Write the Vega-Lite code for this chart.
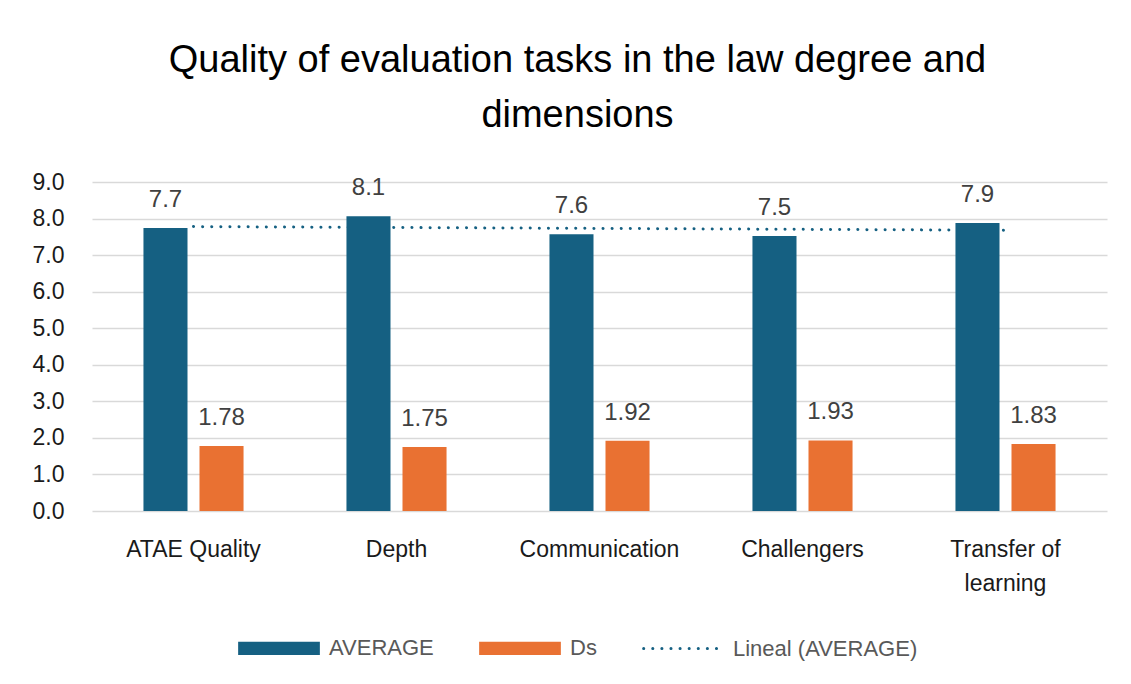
{
  "$schema": "https://vega.github.io/schema/vega-lite/v6.json",
  "autosize": {"type": "none"},
  "padding": {"left": 92, "top": 182, "right": 24, "bottom": 172},
  "width": 1015,
  "height": 329,
  "background": "#ffffff",
  "title": {
    "text": ["Quality of evaluation tasks in the law  degree and", "dimensions"],
    "anchor": "middle",
    "frame": "group",
    "dx": -22,
    "offset": 36,
    "font": "Liberation Sans",
    "fontSize": 38,
    "fontWeight": "normal",
    "lineHeight": 55,
    "color": "#000000"
  },
  "config": {
    "view": {"stroke": null},
    "font": "Liberation Sans"
  },
  "datasets": {
    "bars": [
      {"dimension": "ATAE Quality", "series": "AVERAGE", "value": 7.74, "label": "7.7"},
      {"dimension": "ATAE Quality", "series": "Ds", "value": 1.78, "label": "1.78"},
      {"dimension": "Depth", "series": "AVERAGE", "value": 8.06, "label": "8.1"},
      {"dimension": "Depth", "series": "Ds", "value": 1.75, "label": "1.75"},
      {"dimension": "Communication", "series": "AVERAGE", "value": 7.57, "label": "7.6"},
      {"dimension": "Communication", "series": "Ds", "value": 1.92, "label": "1.92"},
      {"dimension": "Challengers", "series": "AVERAGE", "value": 7.52, "label": "7.5"},
      {"dimension": "Challengers", "series": "Ds", "value": 1.93, "label": "1.93"},
      {"dimension": "Transfer of learning", "series": "AVERAGE", "value": 7.88, "label": "7.9"},
      {"dimension": "Transfer of learning", "series": "Ds", "value": 1.83, "label": "1.83"}
    ],
    "trend": [
      {"dimension": "ATAE Quality", "series": "Lineal (AVERAGE)", "value": 7.78},
      {"dimension": "Depth", "series": "Lineal (AVERAGE)", "value": 7.755},
      {"dimension": "Communication", "series": "Lineal (AVERAGE)", "value": 7.73},
      {"dimension": "Challengers", "series": "Lineal (AVERAGE)", "value": 7.705},
      {"dimension": "Transfer of learning", "series": "Lineal (AVERAGE)", "value": 7.68}
    ]
  },
  "encoding": {
    "x": {
      "field": "dimension",
      "type": "nominal",
      "sort": ["ATAE Quality", "Depth", "Communication", "Challengers", "Transfer of learning"],
      "scale": {"paddingInner": 0.507, "paddingOuter": 0.2535},
      "axis": {
        "title": null,
        "labelAngle": 0,
        "ticks": false,
        "domain": false,
        "labelPadding": 27,
        "labelFontSize": 23,
        "labelColor": "#1a1a1a",
        "labelLineHeight": 34,
        "labelExpr": "datum.value == 'Transfer of learning' ? ['Transfer of', 'learning'] : datum.value"
      }
    },
    "y": {
      "field": "value",
      "type": "quantitative",
      "scale": {"domain": [0, 9], "nice": false, "zero": true},
      "axis": {
        "title": null,
        "values": [0, 1, 2, 3, 4, 5, 6, 7, 8, 9],
        "format": ".1f",
        "ticks": false,
        "domain": false,
        "labelPadding": 28,
        "labelFontSize": 23,
        "labelColor": "#1a1a1a",
        "gridColor": "#d9d9d9",
        "gridWidth": 1.5
      }
    }
  },
  "layer": [
    {
      "data": {"name": "trend"},
      "mark": {"type": "line", "strokeWidth": 3, "strokeDash": [0.1, 9], "strokeCap": "round"},
      "encoding": {
        "color": {
          "field": "series",
          "type": "nominal",
          "scale": {"domain": ["AVERAGE", "Ds", "Lineal (AVERAGE)"], "range": ["#156082", "#E97132", "#156082"]},
          "legend": {
            "title": null,
            "orient": "none",
            "direction": "horizontal",
            "legendX": 146,
            "legendY": 425,
            "labelFontSize": 22,
            "labelColor": "#595959",
            "labelLimit": 400,
            "labelOffset": 9,
            "columnPadding": 40,
            "symbolSize": 6200,
            "symbolStrokeWidth": 3,
            "padding": 0,
            "encode": {
              "symbols": {
                "update": {
                  "shape": {"signal": "datum.value === 'Lineal (AVERAGE)' ? 'M-1,0H1' : 'M-1,-0.13H1V0.13H-1Z'"},
                  "fill": {"signal": "datum.value === 'Lineal (AVERAGE)' ? 'transparent' : (datum.value === 'AVERAGE' ? '#156082' : '#E97132')"},
                  "stroke": {"signal": "datum.value === 'Lineal (AVERAGE)' ? '#156082' : 'transparent'"},
                  "strokeDash": {"signal": "datum.value === 'Lineal (AVERAGE)' ? [0.1, 9] : [1, 0]"},
                  "strokeCap": {"value": "round"},
                  "strokeWidth": {"value": 3},
                  "opacity": {"value": 1}
                }
              }
            }
          }
        }
      }
    },
    {
      "data": {"name": "bars"},
      "mark": {"type": "bar"},
      "encoding": {
        "xOffset": {
          "field": "series",
          "type": "nominal",
          "sort": ["AVERAGE", "Ds"],
          "scale": {"paddingInner": 0.214, "paddingOuter": 0}
        },
        "color": {"field": "series", "type": "nominal"}
      }
    },
    {
      "data": {"name": "bars"},
      "mark": {"type": "text", "baseline": "alphabetic", "dy": -21, "fontSize": 24, "color": "#404040"},
      "encoding": {
        "xOffset": {"field": "series", "type": "nominal", "sort": ["AVERAGE", "Ds"]},
        "text": {"field": "label", "type": "nominal"}
      }
    }
  ]
}
